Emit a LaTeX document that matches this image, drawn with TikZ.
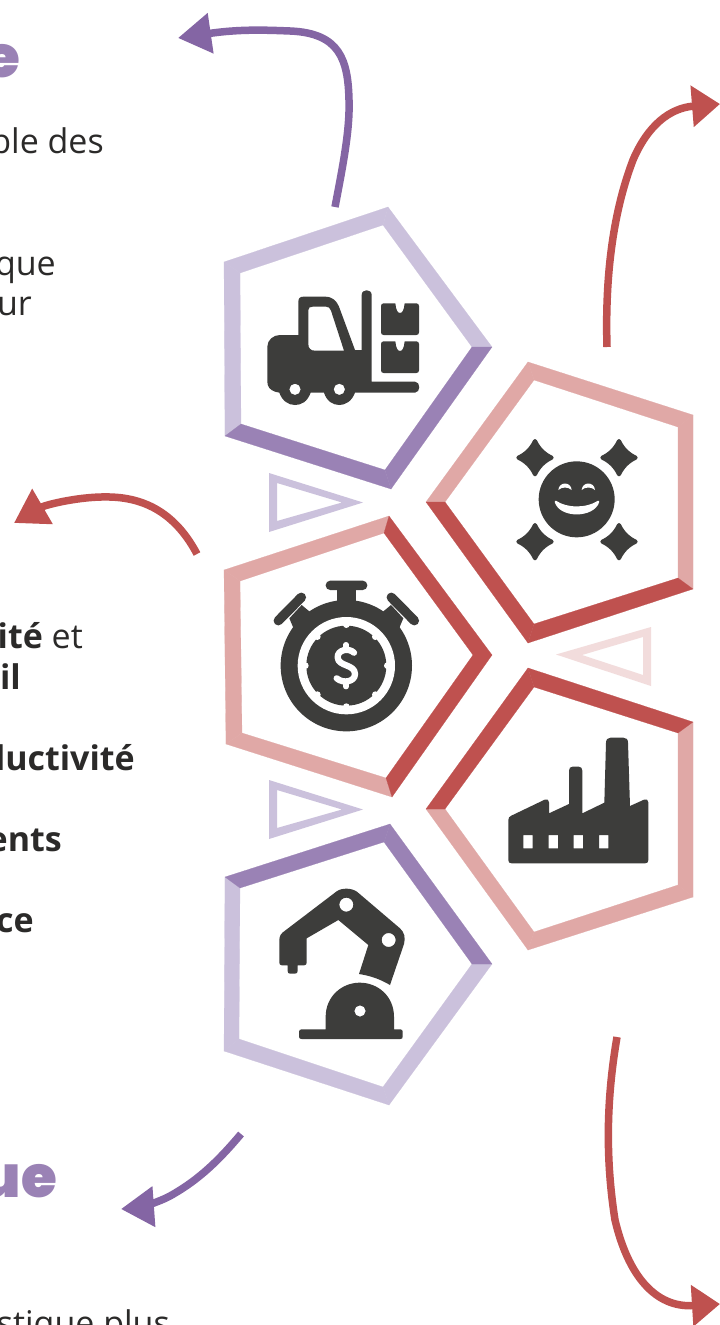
\documentclass[tikz,border=0pt]{standalone}
\usepackage{fontspec}
\setmainfont{Open Sans}
\newfontfamily\heavyfont{Poppins Black}
\usetikzlibrary{arrows.meta}
\definecolor{plight}{HTML}{CBC1DC}
\definecolor{pdark}{HTML}{9A82B5}
\definecolor{parrow}{HTML}{8465A4}
\definecolor{rlight}{HTML}{E0A8A6}
\definecolor{rdark}{HTML}{BF514F}
\definecolor{rpale}{HTML}{F2DCDC}
\definecolor{icondark}{HTML}{3D3D3B}
\definecolor{txt}{HTML}{2B2A29}
\definecolor{ttl}{HTML}{9A82B5}
\tikzset{
  pl/.style={fill=plight,draw=plight,line width=.2pt},
  pd/.style={fill=pdark,draw=pdark,line width=.2pt},
  rl/.style={fill=rlight,draw=rlight,line width=.2pt},
  rd/.style={fill=rdark,draw=rdark,line width=.2pt},
  curvearrow/.style={line width=7.5pt,line cap=butt},
  parr/.style={curvearrow,draw=parrow,-{Triangle[length=33pt,width=39pt,fill=parrow]}},
  rarr/.style={curvearrow,draw=rdark,-{Triangle[length=28pt,width=40pt,fill=rdark]}},
  rarrs/.style={curvearrow,draw=rdark,-{Triangle[length=33pt,width=39pt,fill=rdark]}},
  body/.style={anchor=base east,inner sep=0pt,text=txt,font=\fontsize{34}{34}\selectfont},
  bodyb/.style={body,font=\fontsize{34}{34}\selectfont\bfseries},
  titlet/.style={anchor=base east,inner sep=0pt,text=ttl,font=\fontsize{58}{58}\selectfont\heavyfont},
  icon/.style={fill=icondark,even odd rule},
  zoomed/.style={shift={(#1)},x=0.33333pt,y=-0.33333pt},
}
\newcommand\edgeq[4]{\path[#1] (#2#3o)--(#2#4o)--(#2#4i)--(#2#3i)--cycle;}
\newcommand\sparkle[2]{\filldraw[icondark,line width=4pt,line join=round,shift={(#1,#2)}]
  (0,-50) .. controls (11,-27) and (27,-11) .. (50,0) .. controls (27,11) and (11,27) .. (0,50)
  .. controls (-11,27) and (-27,11) .. (-50,0) .. controls (-27,-11) and (-11,-27) .. (0,-50) -- cycle;}
\begin{document}
\begin{tikzpicture}[x=1pt,y=-1pt]
\useasboundingbox (0,0) rectangle (720,1325);
\fill[white] (0,0) rectangle (720,1325);

% ---- pentagon frames: outer (o) and inner (i) corners
\foreach \n/\ox/\oy/\ix/\iy in {
  h1a/388/207/383/225, h1b/492/347/472/347, h1c/391/489/385/470, h1d/225/436/241/424, h1e/224/262/240/273,
  h3a/389/516/384/533, h3b/492/655/473/655, h3c/392/797/386/778, h3d/226/744/242/733, h3e/224/570/240/581,
  h5a/390/824/384/842, h5b/492/964/472/964, h5c/389/1105/383/1087, h5d/224/1051/239/1039, h5e/225/877/240/888,
  h2a/528/362/534/380, h2b/693/415/678/427, h2c/693/589/678/578, h2d/528/643/534/624, h2e/426/502/445/502,
  h4a/528/668/534/687, h4b/693/722/678/733, h4c/693/897/678/885, h4d/528/950/534/932, h4e/426/809/445/809}{
  \coordinate (\n o) at (\ox,\oy);
  \coordinate (\n i) at (\ix,\iy);
}
\edgeq{pl}{h1}{d}{e}\edgeq{pl}{h1}{e}{a}\edgeq{pl}{h1}{a}{b}\edgeq{pd}{h1}{b}{c}\edgeq{pd}{h1}{c}{d}
\edgeq{rl}{h3}{c}{d}\edgeq{rl}{h3}{d}{e}\edgeq{rl}{h3}{e}{a}\edgeq{rd}{h3}{a}{b}\edgeq{rd}{h3}{b}{c}
\edgeq{pl}{h5}{b}{c}\edgeq{pl}{h5}{c}{d}\edgeq{pl}{h5}{d}{e}\edgeq{pd}{h5}{e}{a}\edgeq{pd}{h5}{a}{b}
\edgeq{rl}{h2}{e}{a}\edgeq{rl}{h2}{a}{b}\edgeq{rl}{h2}{b}{c}\edgeq{rd}{h2}{c}{d}\edgeq{rd}{h2}{d}{e}
\edgeq{rl}{h4}{b}{c}\edgeq{rl}{h4}{c}{d}\edgeq{rl}{h4}{d}{e}\edgeq{rd}{h4}{e}{a}\edgeq{rd}{h4}{a}{b}

% ---- triangles
\fill[plight,even odd rule] (269,473)--(363,502.5)--(269,532)--cycle (277,483)--(342,502.5)--(277,521)--cycle;
\fill[plight,even odd rule] (269,780)--(363,809.5)--(269,839)--cycle (277,790)--(342,809.5)--(277,828)--cycle;
\fill[rpale,even odd rule] (651,627)--(556,654.5)--(651,686)--cycle (643,637)--(582,655)--(643,675)--cycle;

% ---- arrows
\coordinate (a1s) at (335,207); \coordinate (a1e) at (178,38);
\coordinate (a2s) at (607,347); \coordinate (a2e) at (720,104);
\coordinate (a3s) at (197,554); \coordinate (a3e) at (14,523);
\coordinate (a4s) at (241,1134); \coordinate (a4e) at (121,1209);
\coordinate (a5s) at (617,1037); \coordinate (a5e) at (720,1304);
\draw[parr] (a1s) .. controls (343,165) and (350,130) .. (349,100) .. controls (348,60) and (340,33) .. (290,31) .. controls (265,30) and (240,29) .. (a1e);
\draw[rarr] (a2s) .. controls (605,280) and (612,215) .. (633,160) .. controls (648,125) and (670,108) .. (a2e);
\draw[rarrs] (a3s) .. controls (178,518) and (150,498) .. (110,497) .. controls (80,496) and (45,505) .. (a3e);
\draw[parr] (a4s) .. controls (215,1165) and (195,1182) .. (170,1196) .. controls (155,1204) and (135,1208) .. (a4e);
\draw[rarr] (a5s) .. controls (608,1090) and (604,1150) .. (615,1220) .. controls (628,1275) and (655,1308) .. (a5e);

% ---- forklift
\begin{scope}[zoomed={220pt,-200pt}]
\path[icon]
  (235,405) -- (235,305) .. controls (235,295) and (240,290) .. (250,290) -- (315,290)
  .. controls (338,290) and (350,303) .. (357,320) -- (405,450) -- (425,450) -- (425,285)
  .. controls (425,266) and (455,266) .. (455,285) -- (455,545) -- (585,545)
  .. controls (602,545) and (602,578) .. (585,578) -- (405,578)
  .. controls (395,605) and (375,615) .. (358,615) .. controls (338,615) and (320,603) .. (312,578)
  -- (272,578) .. controls (262,605) and (245,615) .. (225,615) .. controls (205,615) and (187,603) .. (178,578)
  -- (165,575) .. controls (150,570) and (142,560) .. (142,545) -- (142,440)
  .. controls (142,420) and (160,405) .. (180,405) -- cycle
  (265,330) .. controls (265,323) and (270,320) .. (278,320) -- (318,320) .. controls (325,320) and (330,323) .. (333,332)
  -- (372,452) -- (285,452) .. controls (272,452) and (265,445) .. (265,432) -- cycle
  (225,568) circle[radius=17] (358,568) circle[radius=17];
\foreach \dy in {0,114}{
\fill[icondark,shift={(0,\dy)}]
  (491,310) -- (526,310) .. controls (528,330) and (533,339) .. (540,339) .. controls (547,339) and (552,330) .. (554,310)
  -- (589,310) .. controls (594,310) and (597,313) .. (597,318) -- (597,397) .. controls (597,402) and (594,405) .. (589,405)
  -- (491,405) .. controls (486,405) and (483,402) .. (483,397) -- (483,318) .. controls (483,313) and (486,310) .. (491,310) -- cycle;
}
\end{scope}

% ---- smiling face
\begin{scope}[zoomed={420pt,-350pt}]
\fill[icondark] (470,448) circle[radius=114];
\sparkle{345}{323}\sparkle{597}{323}\sparkle{345}{575}\sparkle{597}{575}
\fill[white] (415,420) .. controls (417,394) and (453,394) .. (455,420) .. controls (445,410) and (425,410) .. (415,420) -- cycle;
\fill[white] (485,420) .. controls (487,394) and (523,394) .. (525,420) .. controls (515,410) and (495,410) .. (485,420) -- cycle;
\filldraw[white,line width=2pt,line join=round] (407,455) .. controls (440,478) and (500,478) .. (535,455) .. controls (520,502) and (420,502) .. (407,455) -- cycle;
\end{scope}

% ---- stopwatch
\begin{scope}[zoomed={220pt,-510pt}]
\fill[icondark,rounded corners=4.5pt] (317,212) rectangle (442,240);
\fill[icondark] (350,230) rectangle (408,300);
\draw[icondark,line width=9.5pt,line cap=round] (175,332) -- (244,262);
\draw[icondark,line width=9.5pt,line cap=round] (583,332) -- (514,262);
\fill[icondark] (208,325) -- (245,285) -- (275,310) -- (225,365) -- cycle;
\fill[icondark] (550,325) -- (513,285) -- (483,310) -- (533,365) -- cycle;
\fill[icondark] (379,467) circle[radius=197];
\fill[white] (379,467) circle[radius=146];
\fill[icondark] (379,467) circle[radius=120];
\foreach \a in {0,45,...,315}{\fill[white] (379,467) ++(\a:123) circle[radius=10];}
\draw[white,line width=6.3pt,line cap=round,line join=round]
  (402,428) .. controls (385,412) and (352,420) .. (353,442) .. controls (354,470) and (405,462) .. (405,492)
  .. controls (405,515) and (370,522) .. (350,505);
\draw[white,line width=5.3pt,line cap=round] (378,404) -- (378,420) (378,515) -- (378,530);
\end{scope}

% ---- factory
\begin{scope}[zoomed={420pt,-620pt}]
\path[icon]
  (265,600) .. controls (265,593) and (268,590) .. (274,587) -- (374,539) .. controls (382,536) and (387,540) .. (387,547)
  -- (387,580) -- (447,552) -- (447,452) .. controls (447,444) and (451,440) .. (458,440) -- (476,440)
  .. controls (483,440) and (487,444) .. (487,452) -- (487,580) -- (553,548) -- (558,368)
  .. controls (558,358) and (564,353) .. (572,353) -- (610,353) .. controls (619,353) and (624,358) .. (624,368)
  -- (630,558) -- (672,539) .. controls (680,536) and (685,540) .. (685,547) -- (685,720)
  .. controls (685,727) and (682,730) .. (675,730) -- (275,730) .. controls (268,730) and (265,727) .. (265,720) -- cycle
  (310,645) rectangle (338,685) (386,645) rectangle (414,685) (461,645) rectangle (489,685) (537,645) rectangle (565,685);
\end{scope}

% ---- robot arm
\begin{scope}[zoomed={220pt,-820pt}]
\path[icon]
  (178,360) .. controls (178,348) and (183,340) .. (195,332) -- (350,214) .. controls (365,203) and (395,203) .. (412,216)
  -- (540,325) .. controls (553,337) and (557,352) .. (552,372) -- (510,495) .. controls (480,477) and (450,467) .. (417,462)
  -- (445,375) -- (355,300) -- (260,355) -- (260,428) .. controls (260,433) and (257,436) .. (252,436) -- (233,436)
  -- (233,453) .. controls (233,458) and (230,461) .. (225,461) -- (210,461) .. controls (205,461) and (203,458) .. (203,453)
  -- (203,436) -- (186,436) .. controls (181,436) and (178,433) .. (178,428) -- cycle
  (379,254) circle[radius=21] (506,360) circle[radius=21];
\path[icon]
  (245,628) -- (317,628) -- (317,590) .. controls (317,530) and (365,488) .. (419,488) .. controls (475,488) and (522,530) .. (522,590)
  -- (522,628) -- (541,628) .. controls (546,628) and (548,631) .. (548,635) -- (548,650) .. controls (548,655) and (546,657) .. (541,657)
  -- (245,657) .. controls (240,657) and (237,655) .. (237,650) -- (237,635) .. controls (237,631) and (240,628) .. (245,628) -- cycle
  (420,573) circle[radius=17];
\end{scope}

% ---- text
\node[titlet] (t1) at (20,77) {e};
\node[body] (b1) at (104,153) {ble des};
\node[body] (b2) at (56,275) {que};
\node[body] (b3) at (32,315) {ur};
\node[body] (b4) at (83,648) {\textbf{ité} et};
\node[bodyb] (b5) at (21,689) {il};
\node[bodyb] (b6) at (135,770) {ductivité};
\node[bodyb] (b7) at (62,851) {ents};
\node[bodyb] (b8) at (34,932) {ce};
\node[titlet] (t2) at (57,1197) {ue};
\node[body] (b9) at (170,1335) {stique plus};
\end{tikzpicture}
\end{document}
